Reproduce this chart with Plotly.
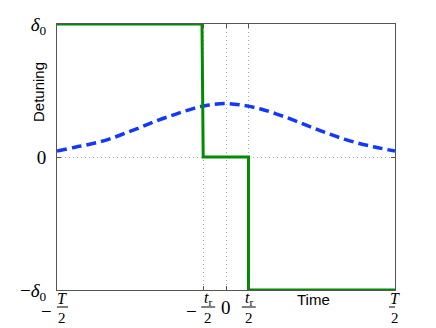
import plotly.graph_objects as go

# ---- data (T/2 = 1, delta0 = 1) ----
tr_half = 0.135
step_x = [-1.0, -0.142, -0.135, 0.133, 0.133, 1.0]
step_y = [1.0, 1.0, 0.0, 0.0, -1.0, -1.0]

gauss_x = [-1.0, -0.9, -0.8, -0.7, -0.6, -0.5, -0.4, -0.3, -0.2, -0.1, 0.0,
           0.1, 0.2, 0.3, 0.4, 0.5, 0.6, 0.7, 0.8, 0.9, 1.0]
gauss_y = [0.044, 0.072, 0.098, 0.131, 0.177, 0.226, 0.277, 0.321, 0.362, 0.391, 0.402,
           0.389, 0.363, 0.323, 0.277, 0.227, 0.178, 0.134, 0.098, 0.070, 0.044]

ytick_vals = [-1, 0, 1]
ytick_text = ["−<i>δ</i><sub>0</sub>", "0", "<i>δ</i><sub>0</sub>"]
xtick_vals = [-1, -tr_half, 0, tr_half, 1]

SERIF = "Liberation Serif"
SANS = "Liberation Sans"

fig = go.Figure()
fig.add_trace(go.Scatter(x=gauss_x, y=gauss_y, mode="lines",
                         line=dict(color="#1238ff", width=3.5, dash="10px,5px", shape="spline"),
                         cliponaxis=False, showlegend=False))
fig.add_trace(go.Scatter(x=step_x, y=step_y, mode="lines",
                         line=dict(color="#008c00", width=3),
                         cliponaxis=False, showlegend=False))

fig.update_layout(
    width=436, height=328,
    margin=dict(l=57, r=41, t=24, b=38),
    paper_bgcolor="white", plot_bgcolor="white",
    xaxis=dict(range=[-1, 1], tickvals=xtick_vals, showticklabels=False,
               showgrid=True, gridcolor="#aaaaaa", griddash="1px,3px", gridwidth=1,
               zeroline=False, showline=True, linecolor="#555", linewidth=1,
               mirror="ticks", ticks="inside", ticklen=4, tickcolor="#555"),
    yaxis=dict(range=[-1, 1], tickvals=ytick_vals, ticktext=ytick_text,
               tickfont=dict(family=SERIF, size=19, color="black"),
               showgrid=True, gridcolor="#aaaaaa", griddash="1px,3px", gridwidth=1,
               zeroline=False, showline=True, linecolor="#555", linewidth=1,
               mirror="ticks", ticks="inside", ticklen=4, tickcolor="#555",
               ticklabelstandoff=6),
)

def py2paper(py):
    return (290 - py) / 266.0

num_y = py2paper(298)
bar_y = py2paper(307)
den_y = py2paper(318)

def frac(xv, num, shift, minus=False, mshift=-11, half=6):
    fig.add_annotation(x=xv, y=num_y, xref="x", yref="paper", text=num, showarrow=False,
                       xshift=shift, font=dict(family=SERIF, size=16, color="black"),
                       xanchor="center", yanchor="middle")
    fig.add_annotation(x=xv, y=den_y, xref="x", yref="paper", text="2", showarrow=False,
                       xshift=shift, font=dict(family=SERIF, size=15, color="black"),
                       xanchor="center", yanchor="middle")
    fig.add_shape(type="line", xref="x", yref="paper", xsizemode="pixel", xanchor=xv,
                  x0=shift - half, x1=shift + half, y0=bar_y, y1=bar_y,
                  line=dict(color="black", width=1))
    if minus:
        fig.add_annotation(x=xv, y=bar_y, xref="x", yref="paper", text="−", showarrow=False,
                           xshift=mshift, yshift=-4,
                           font=dict(family=SERIF, size=19, color="black"),
                           xanchor="center", yanchor="middle")

frac(-1, "<i>T</i>", 5, minus=True, mshift=-11, half=6)
frac(-tr_half, "<i>t</i><sub>r</sub>", 5, minus=True, mshift=-12, half=7)
frac(tr_half, "<i>t</i><sub>r</sub>", 0, half=7)
frac(1, "<i>T</i>", 0, half=6)
fig.add_annotation(x=0, y=bar_y, xref="x", yref="paper", text="0", showarrow=False,
                   font=dict(family=SERIF, size=19, color="black"),
                   xanchor="center", yanchor="middle")

fig.add_annotation(x=(313 - 57) / 338.0, y=py2paper(299), xref="paper", yref="paper",
                   text="Time", showarrow=False,
                   font=dict(family=SANS, size=15, color="black"),
                   xanchor="center", yanchor="middle")
fig.add_annotation(x=(38 - 57) / 338.0, y=py2paper(92), xref="paper", yref="paper",
                   text="Detuning", textangle=-90, showarrow=False,
                   font=dict(family=SANS, size=15, color="black"),
                   xanchor="center", yanchor="middle")

fig.write_html("out.html", config={"displayModeBar": False},
               post_script="document.body.style.margin='0';document.body.style.overflow='hidden';")
